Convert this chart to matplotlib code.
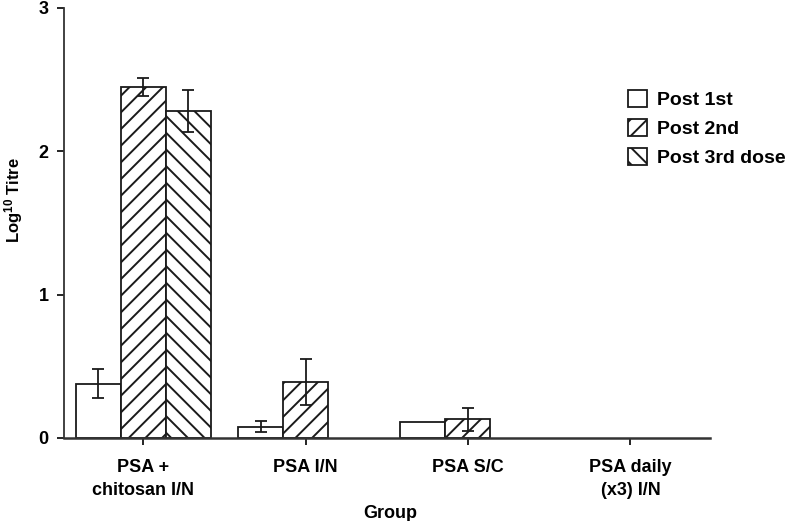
import matplotlib
matplotlib.use('Agg')
import matplotlib.pyplot as plt
import numpy as np

plt.rcParams['font.family'] = ['Liberation Sans', 'DejaVu Sans']
plt.rcParams['font.weight'] = 'bold'
plt.rcParams['axes.labelweight'] = 'bold'
plt.rcParams['mathtext.fontset'] = 'custom'
plt.rcParams['mathtext.rm'] = 'Liberation Sans:bold'
plt.rcParams['mathtext.bf'] = 'Liberation Sans:bold'
plt.rcParams['mathtext.default'] = 'bf'
plt.rcParams['hatch.linewidth'] = 1.4

groups = ['PSA +\nchitosan I/N', 'PSA I/N', 'PSA S/C', 'PSA daily\n(x3) I/N']
series = ['Post 1st', 'Post 2nd', 'Post 3rd dose']
post1 = [0.38, 0.08, 0.11, 0.0]
post2 = [2.45, 0.39, 0.13, 0.0]
post3 = [2.28, 0.0, 0.0, 0.0]
err1 = [0.10, 0.04, 0.0, 0.0]
err2 = [0.065, 0.16, 0.08, 0.0]
err3 = [0.145, 0.0, 0.0, 0.0]

fig = plt.figure(figsize=(7.86, 5.21), dpi=100)
ax = fig.add_axes([64/786, 83/521, 646/786, 430/521])

x = np.arange(len(groups))
w = 0.277
hatches = ['', '//', '\\\\']
vals = [post1, post2, post3]
errs = [err1, err2, err3]
for i in range(3):
    v = np.array(vals[i])
    e = np.array(errs[i])
    pos = x + (i - 1) * w
    mask = v > 0
    ax.bar(pos[mask], v[mask], width=w, color='white', edgecolor='#1a1a1a',
           linewidth=1.3, hatch=hatches[i], label=series[i])
    em = mask & (e > 0)
    ax.errorbar(pos[em], v[em], yerr=e[em], fmt='none', ecolor='#1a1a1a',
                elinewidth=1.3, capsize=4, capthick=1.3)

ax.set_xlim(-0.487, 3.49)
ax.set_ylim(0, 3)
ax.set_yticks([0, 1, 2, 3])
ax.set_xticks(x)
ax.set_xticklabels(groups, fontsize=13, linespacing=1.5)
ax.tick_params(axis='y', labelsize=13, length=5, width=1.2, pad=6)
ax.tick_params(axis='x', length=5, width=1.2, pad=10)
ax.spines['top'].set_visible(False)
ax.spines['right'].set_visible(False)
ax.spines['left'].set_linewidth(1.3)
ax.spines['bottom'].set_linewidth(1.8)
ax.spines['left'].set_color('#333333')
ax.spines['bottom'].set_color('#333333')

ax.set_xlabel('Group', fontsize=13, fontweight='bold')
ax.xaxis.set_label_coords(0.505, -0.156)
ax.set_ylabel('Log$^{10}$ Titre', fontsize=12, fontweight='bold')
ax.yaxis.set_label_coords(-0.06, 0.553)

leg = ax.legend(loc='upper left', bbox_to_anchor=(620/786, 1 - 82/521),
                bbox_transform=fig.transFigure, frameon=False,
                prop={'weight': 'bold', 'size': 14},
                handlelength=1.0, handleheight=1.0, handletextpad=0.5,
                labelspacing=0.5, borderaxespad=0)

fig.savefig('out.png', dpi=100)
